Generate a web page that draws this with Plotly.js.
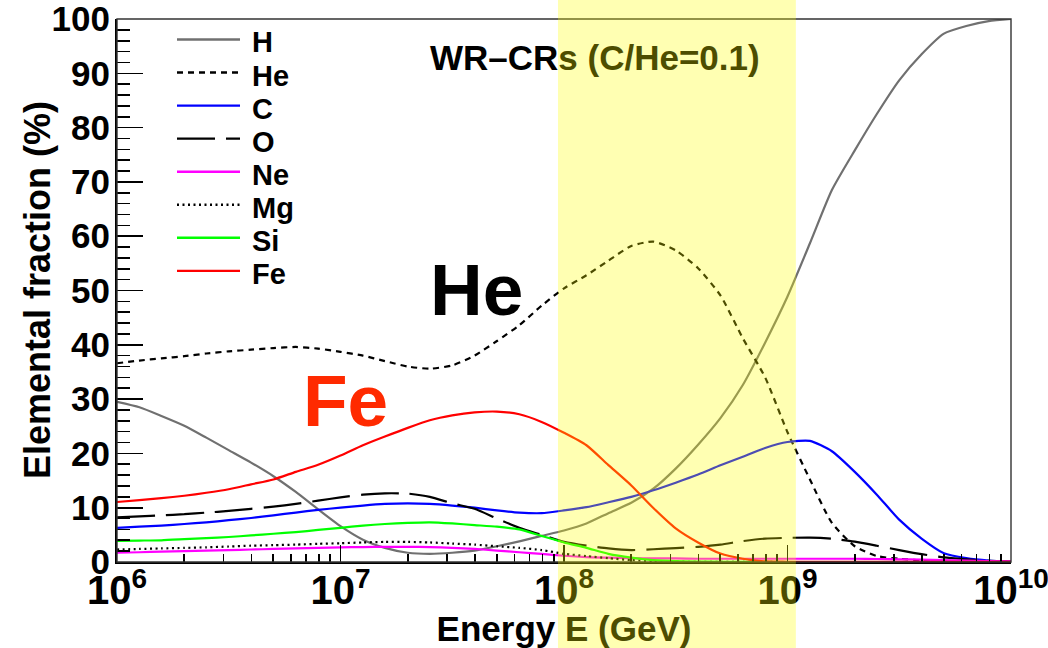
<!DOCTYPE html>
<html>
<head>
<meta charset="utf-8">
<script src="https://cdn.plot.ly/plotly-3.0.1.min.js"></script>
<style>
  html, body { margin: 0; padding: 0; background: #ffffff; }
  #chart { width: 1048px; height: 648px; }
</style>
</head>
<body>
<div id="chart"></div>
<script>
// Energy grid (GeV), 0.1-decade steps from 1e6 to 1e10
const energyGeV = [
  1.00e6, 1.26e6, 1.58e6, 2.00e6, 2.51e6, 3.16e6, 3.98e6, 5.01e6, 6.31e6, 7.94e6,
  1.00e7, 1.26e7, 1.58e7, 2.00e7, 2.51e7, 3.16e7, 3.98e7, 5.01e7, 6.31e7, 7.94e7,
  1.00e8, 1.26e8, 1.58e8, 2.00e8, 2.51e8, 3.16e8, 3.98e8, 5.01e8, 6.31e8, 7.94e8,
  1.00e9, 1.26e9, 1.58e9, 2.00e9, 2.51e9, 3.16e9, 3.98e9, 5.01e9, 6.31e9, 7.94e9,
  1.00e10
];

// Elemental fractions (%) per species
const fracH = [29.5, 28.5, 26.9, 25.1, 22.9, 20.6, 18.3, 15.8, 12.9, 9.7,
  6.6, 4.1, 2.6, 1.7, 1.5, 1.7, 2.1, 2.9, 3.8, 4.8,
  5.8, 7.1, 9.0, 10.9, 13.5, 17.2, 21.6, 26.5, 32.6, 40.4,
  48.9, 58.7, 68.5, 75.8, 82.5, 88.7, 93.5, 97.3, 98.7, 99.6,
  100.0];
const fracHe = [36.6, 37.1, 37.5, 37.9, 38.4, 38.8, 39.1, 39.4, 39.6, 39.3,
  38.7, 38.0, 37.0, 36.0, 35.6, 36.2, 38.0, 40.7, 43.6, 47.2,
  50.4, 52.8, 55.5, 58.2, 59.0, 57.4, 54.1, 49.1, 41.2, 34.0,
  23.9, 15.2, 7.2, 2.9, 1.1, 0.6, 0.3, 0.2, 0.1, 0.1,
  0.05];
const fracC = [6.3, 6.5, 6.7, 7.0, 7.3, 7.7, 8.1, 8.6, 9.1, 9.6,
  10.0, 10.4, 10.7, 10.8, 10.7, 10.4, 10.0, 9.5, 9.1, 9.0,
  9.5, 10.1, 11.0, 12.0, 13.2, 14.6, 16.1, 17.8, 19.4, 21.0,
  22.1, 22.3, 20.4, 16.6, 12.4, 7.8, 4.3, 1.6, 0.7, 0.25,
  0.05];
const fracO = [8.2, 8.4, 8.6, 8.8, 9.1, 9.4, 9.8, 10.2, 10.7, 11.3,
  11.9, 12.4, 12.65, 12.6, 12.0, 10.8, 9.8, 8.0, 6.3, 5.0,
  3.7, 3.0, 2.5, 2.2, 2.35, 2.55, 2.8, 3.2, 3.85, 4.3,
  4.45, 4.5, 4.3, 3.75, 3.0, 2.2, 1.45, 0.85, 0.5, 0.2,
  0.1];
const fracNe = [1.7, 1.8, 1.9, 2.0, 2.1, 2.2, 2.3, 2.4, 2.5, 2.6,
  2.7, 2.75, 2.8, 2.8, 2.75, 2.6, 2.4, 2.1, 1.8, 1.5,
  1.15, 0.9, 0.8, 0.7, 0.65, 0.65, 0.6, 0.6, 0.6, 0.6,
  0.6, 0.6, 0.6, 0.6, 0.55, 0.5, 0.45, 0.35, 0.25, 0.15,
  0.1];
const fracMg = [2.3, 2.4, 2.5, 2.6, 2.7, 2.85, 3.0, 3.1, 3.2, 3.35,
  3.45, 3.6, 3.7, 3.7, 3.6, 3.4, 3.2, 2.9, 2.6, 2.2,
  1.5, 1.1, 0.7, 0.35, 0.15, 0.07, 0.03, 0.02, 0.01, 0.01,
  0, 0, 0, 0, 0, 0, 0, 0, 0, 0,
  0];
const fracSi = [3.9, 3.95, 4.0, 4.2, 4.4, 4.6, 4.9, 5.2, 5.5, 5.9,
  6.3, 6.7, 7.0, 7.2, 7.3, 7.1, 6.8, 6.5, 6.0, 4.8,
  3.6, 2.6, 1.5, 0.8, 0.35, 0.15, 0.08, 0.04, 0.02, 0.01,
  0, 0, 0, 0, 0, 0, 0, 0, 0, 0,
  0];
const fracFe = [11.05, 11.4, 11.75, 12.2, 12.75, 13.4, 14.3, 15.2, 16.6, 17.9,
  19.6, 21.5, 23.1, 24.7, 26.1, 27.0, 27.55, 27.7, 27.2, 25.8,
  23.8, 21.5, 17.85, 14.1, 9.95, 6.2, 3.6, 1.55, 0.6, 0.1,
  0.05, 0.03, 0.02, 0.02, 0.02, 0.02, 0.02, 0.02, 0.02, 0.02,
  0.02];

const elementNames = ['H', 'He', 'C', 'O', 'Ne', 'Mg', 'Si', 'Fe'];
const elementValues = [fracH, fracHe, fracC, fracO, fracNe, fracMg, fracSi, fracFe];

// Highlighted energy window (GeV)
const bandRange = [9.4e7, 1.09e9];

// Line styles per species
const lineColors = ['#707070', '#000000', '#0000ff', '#000000', '#ff00ff', '#000000', '#00ff00', '#ff0000'];
const lineDashes = ['solid', '6px,5px', 'solid', '38px,11px', 'solid', '2px,3.5px', 'solid', 'solid'];

const FONT = 'Liberation Sans, Arial, Helvetica, sans-serif';
const OLIVE = '#4d4d00';

const traces = elementNames.map((name, i) => ({
  type: 'scatter',
  mode: 'lines',
  name: name,
  x: energyGeV,
  y: elementValues[i],
  line: { color: lineColors[i], width: 2.2, dash: lineDashes[i], shape: 'spline', smoothing: 0.6 },
  showlegend: false,
  hoverinfo: 'skip'
}));

// Plot-area geometry in pixels (for placing the in-frame legend and labels)
const W = 1048, H = 648;
const M = { l: 117, r: 37, t: 19, b: 86 };
const PW = W - M.l - M.r, PH = H - M.t - M.b;
const px2x = px => (px - M.l) / PW;
const py2y = py => (H - M.b - py) / PH;

const shapes = [];
const annotations = [];

// Frame on top/right
shapes.push({
  type: 'rect', xref: 'paper', yref: 'paper', x0: 0, x1: 1, y0: 0, y1: 1,
  line: { color: '#333333', width: 1.4 }, layer: 'above'
});

// Legend block inside the frame
const legendTop = 39.5, legendStep = 33.05;
elementNames.forEach((name, i) => {
  const yy = py2y(legendTop + i * legendStep);
  shapes.push({
    type: 'line', xref: 'paper', yref: 'paper',
    x0: px2x(177), x1: px2x(240), y0: yy, y1: yy,
    line: { color: lineColors[i], width: 2.4, dash: lineDashes[i] },
    layer: 'above'
  });
  annotations.push({
    xref: 'paper', yref: 'paper', x: px2x(250), y: py2y(legendTop + 3 + i * legendStep),
    xanchor: 'left', yanchor: 'middle', showarrow: false,
    text: name, font: { family: FONT, size: 29, color: '#000000', weight: 'bold' }
  });
});

// Semi-transparent highlight band, drawn over the curves
shapes.push({
  type: 'rect', xref: 'x', yref: 'paper',
  x0: bandRange[0], x1: bandRange[1], y0: -0.2, y1: 1.1,
  fillcolor: 'rgba(255,255,0,0.3)', line: { width: 0 }, layer: 'above'
});

// Vertical axis title
annotations.push({
  xref: 'paper', yref: 'paper', x: px2x(38), y: py2y(290),
  xanchor: 'center', yanchor: 'middle', showarrow: false, textangle: -90,
  text: 'Elemental fraction (%)',
  font: { family: FONT, size: 36, color: '#000000', weight: 'bold' }
});

annotations.push({
  xref: 'paper', yref: 'paper', x: px2x(428), y: py2y(57),
  xanchor: 'left', yanchor: 'middle', showarrow: false,
  text: 'WR–CR<span style="color:' + OLIVE + '">s (C/He=0.1)</span>',
  font: { family: FONT, size: 35, color: '#000000', weight: 'bold' }
});
annotations.push({
  xref: 'paper', yref: 'paper', x: px2x(428), y: py2y(290),
  xanchor: 'left', yanchor: 'middle', showarrow: false,
  text: 'He', font: { family: FONT, size: 73, color: '#000000', weight: 'bold' }
});
annotations.push({
  xref: 'paper', yref: 'paper', x: px2x(301), y: py2y(400),
  xanchor: 'left', yanchor: 'middle', showarrow: false,
  text: 'Fe', font: { family: FONT, size: 73, color: '#ff2a00', weight: 'bold' }
});

const layout = {
  width: W, height: H,
  margin: M,
  paper_bgcolor: '#ffffff',
  plot_bgcolor: '#ffffff',
  showlegend: false,
  font: { family: FONT, color: '#000000' },
  xaxis: {
    type: 'log',
    range: [6, 10],
    dtick: 1,
    exponentformat: 'power',
    showgrid: false, zeroline: false,
    showline: true, linecolor: '#000000', linewidth: 2,
    ticks: 'inside', ticklen: 17, tickwidth: 1.6, tickcolor: '#000000',
    minor: { dtick: 'D1', ticks: 'inside', ticklen: 8, tickwidth: 1.6, tickcolor: '#000000', showgrid: false },
    tickfont: { family: FONT, size: 32, color: '#000000', weight: 'bold' },
    ticklabeloverflow: 'allow',
    ticklabelstandoff: -6,
    title: {
      text: 'Energy <span style="color:' + OLIVE + '">E (GeV)</span>',
      font: { family: FONT, size: 35, color: '#000000', weight: 'bold' },
      standoff: 8
    }
  },
  yaxis: {
    range: [0, 100],
    dtick: 10,
    showgrid: false, zeroline: false,
    showline: true, linecolor: '#000000', linewidth: 2,
    ticks: 'inside', ticklen: 26, tickwidth: 1.6, tickcolor: '#000000',
    minor: { dtick: 2, ticks: 'inside', ticklen: 13, tickwidth: 1.6, tickcolor: '#000000', showgrid: false },
    tickfont: { family: FONT, size: 35, color: '#000000', weight: 'bold' },
    ticklabeloverflow: 'allow',
    ticklabelstandoff: -2
  },
  shapes: shapes,
  annotations: annotations
};

Plotly.newPlot('chart', traces, layout, { staticPlot: true, displayModeBar: false });
</script>
</body>
</html>
